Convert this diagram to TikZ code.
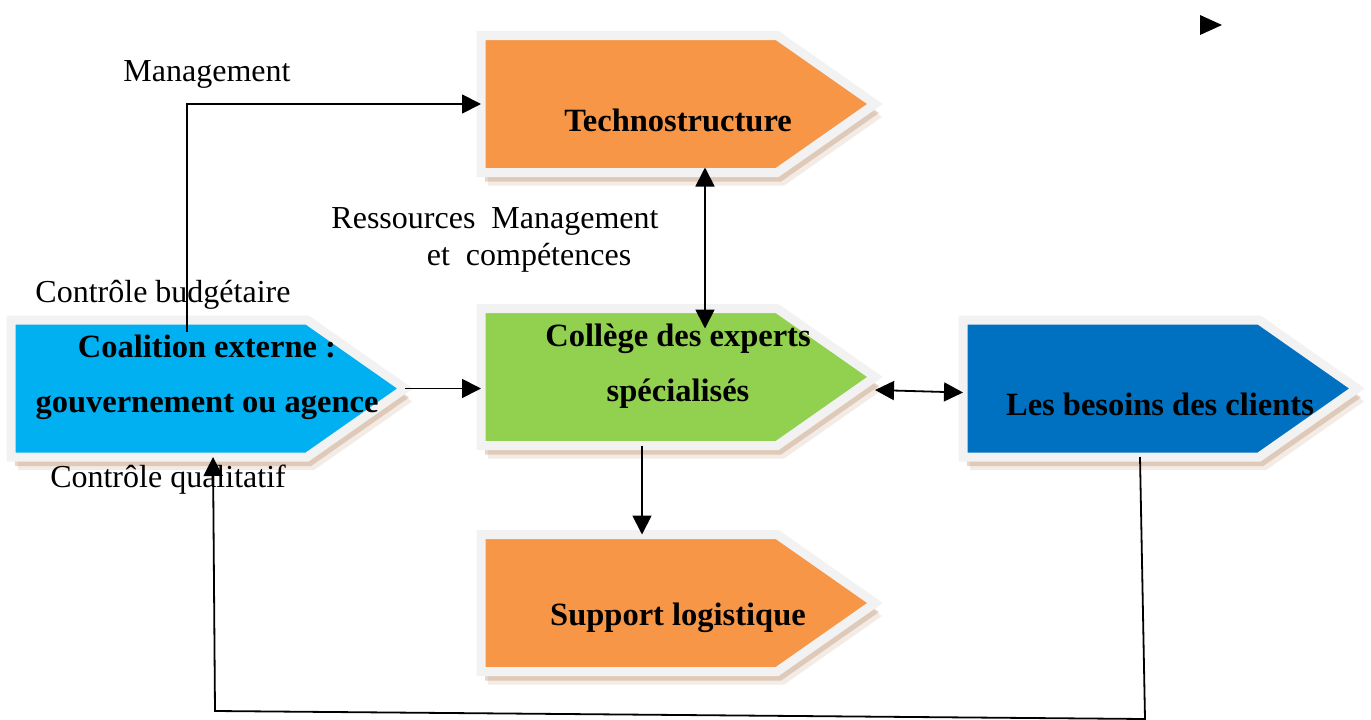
\documentclass[tikz,border=0pt]{standalone}
\usepackage{fontspec}
\setmainfont{Liberation Serif}
\usetikzlibrary{shapes.symbols,shadows,arrows.meta}
\definecolor{techorange}{HTML}{F79646}
\definecolor{expertgreen}{HTML}{92D050}
\definecolor{coalblue}{HTML}{00B0F0}
\definecolor{clientblue}{HTML}{0070C0}
\definecolor{rimgray}{HTML}{F2F2F2}
\definecolor{shadowbrown}{HTML}{B07A50}

\begin{document}
\begin{tikzpicture}[x=1pt,y=-1pt,>={Triangle[length=19pt,width=19pt]},line width=1.8pt,
		main node/.style={signal,signal to=east,signal pointer angle=70,anchor=west,
			minimum width=394pt,minimum height=137pt,inner sep=0pt,outer sep=0pt,
			draw=rimgray,line width=9pt,
			drop shadow={shadow xshift=7pt,shadow yshift=-13pt,fill=shadowbrown,opacity=.15},
			drop shadow={shadow xshift=4pt,shadow yshift=-9pt,fill=shadowbrown,opacity=.3}},
		box text/.style={font=\fontsize{32.5}{55}\selectfont\bfseries,align=center},
		side text/.style={font=\fontsize{32}{37}\selectfont}]
	\useasboundingbox (0,0) rectangle (1371,720);
	% Nodes
	\node[main node,fill=techorange] (tech) at (481,104) {};
	\node[main node,fill=expertgreen] (coll) at (481,377) {};
	\node[main node,fill=techorange] (supp) at (481,603) {};
	\node[main node,fill=coalblue] (coal) at (11,388.5) {};
	\node[main node,fill=clientblue] (need) at (963,388.5) {};

	\node[box text] (techtxt) at (678,120) {Technostructure};
	\node[box text] (colltxt) at (678,366) {Collège des experts\\spécialisés};
	\node[box text] (supptxt) at (678,618) {Support logistique};
	\node[box text] (coaltxt) at (207,377) {Coalition externe :\\gouvernement ou agence};
	\node[box text] (needtxt) at (1160,404) {Les besoins des clients};

	\node[side text] (mgmt) at (207,74) {Management};
	\node[side text] (res) at (495,221) {Ressources~~Management};
	\node[side text] (comp) at (529,258) {et~~compétences};
	\node[side text] (budget) at (163,295) {Contrôle budgétaire};
	\node[side text] (quali) at (168,480) {Contrôle qualitatif};

	\coordinate (mstart) at (187,332);
	\coordinate (tcx) at (705,0);
	\coordinate (csx) at (642,0);
	\coordinate (ndx) at (1140,0);
	\coordinate (qx) at (213,0);
	\coordinate (loopR) at (1145,719);
	\coordinate (loopL) at (215,711);

	% Edges
	\draw[->] (mstart) |- (tech.west);
	\draw[<->,shorten <=-5pt,shorten >=-20pt] (tech.south -| tcx) -- (coll.north -| tcx);
	\draw[->] (coal.east) -- (coll.west |- coal.east);
	\draw[<->] ([yshift=-13pt]coll.east) -- ([yshift=-4pt]need.west);
	\draw[->] (coll.south -| csx) -- (supp.north -| csx);
	\draw[->] (need.south -| ndx) -- (loopR) -- (loopL) -- (coal.south -| qx);
	\fill (1200,15) -- (1222,25) -- (1200,35) -- cycle;
\end{tikzpicture}
\end{document}
